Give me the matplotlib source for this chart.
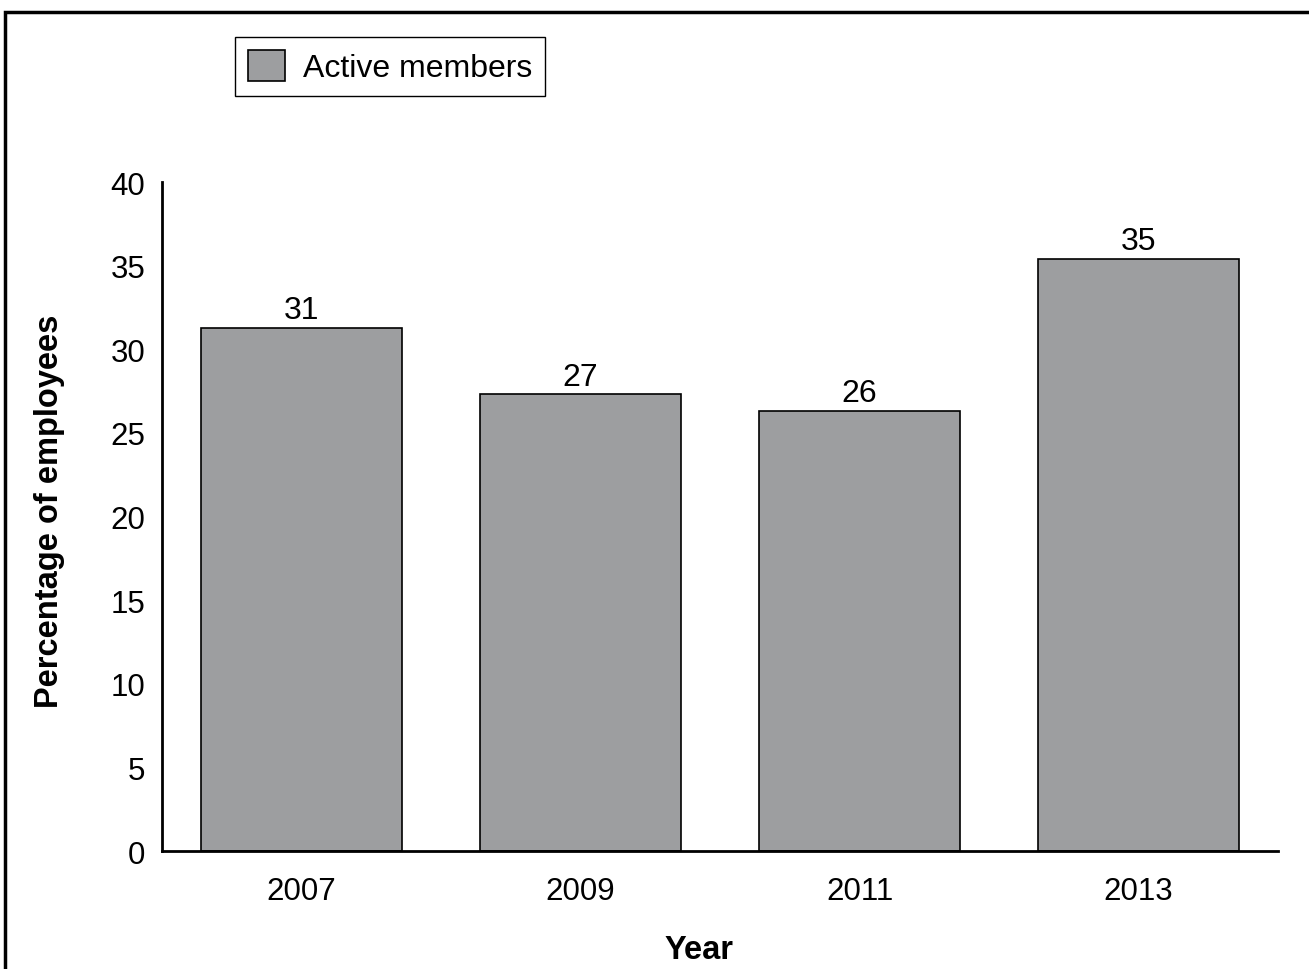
import matplotlib
matplotlib.use('Agg')
import matplotlib.pyplot as plt
from matplotlib.patches import Rectangle

years = ['2007', '2009', '2011', '2013']
active = [31.3, 27.3, 26.3, 35.4]
labels = ['31', '27', '26', '35']

plt.rcParams['font.family'] = ['Liberation Sans', 'DejaVu Sans']

fig = plt.figure(figsize=(13.09, 9.70), dpi=100)
ax = fig.add_axes([0.1238, 0.1216, 0.8525, 0.6897])

x = range(len(years))
bars = ax.bar(x, active, width=0.72, color='#9d9ea0', edgecolor='black',
              linewidth=1.2, label='Active members')
for b, t in zip(bars, labels):
    ax.annotate(t, (b.get_x() + b.get_width() / 2, b.get_height()),
                xytext=(0, 2), textcoords='offset points',
                ha='center', va='bottom', fontsize=23)

ax.set_xlim(-0.5, 3.5)
ax.set_ylim(0, 40)
ax.set_yticks(range(0, 41, 5))
ax.set_xticks(list(x))
ax.set_xticklabels(years)
ax.tick_params(axis='both', length=0, labelsize=22.5)
ax.tick_params(axis='y', pad=12)
ax.tick_params(axis='x', pad=18)
for s in ['top', 'right']:
    ax.spines[s].set_visible(False)
for s in ['left', 'bottom']:
    ax.spines[s].set_linewidth(2)

ax.set_xlabel('Year', fontsize=23.5, fontweight='bold')
ax.set_ylabel('Percentage of employees', fontsize=23.5, fontweight='bold', labelpad=33)
ax.xaxis.set_label_coords(0.481, -0.124)
ax.yaxis.label.set_y(0.51)

leg = ax.legend(loc='upper left', fontsize=23, fancybox=False,
                edgecolor='black', framealpha=1, handlelength=1.17, handleheight=1.15,
                borderpad=0.4, handletextpad=0.55, borderaxespad=0)
leg.get_frame().set_linewidth(1)
leg.set_bbox_to_anchor((235 / 1309, 1 - 38 / 970), transform=fig.transFigure)

fig.patches.append(Rectangle((5 / 1309, -0.1), 1.2, 1 - 13 / 970 + 0.1,
                             transform=fig.transFigure, fill=False,
                             edgecolor='black', linewidth=2.5))

fig.savefig('out.png', dpi=100)
